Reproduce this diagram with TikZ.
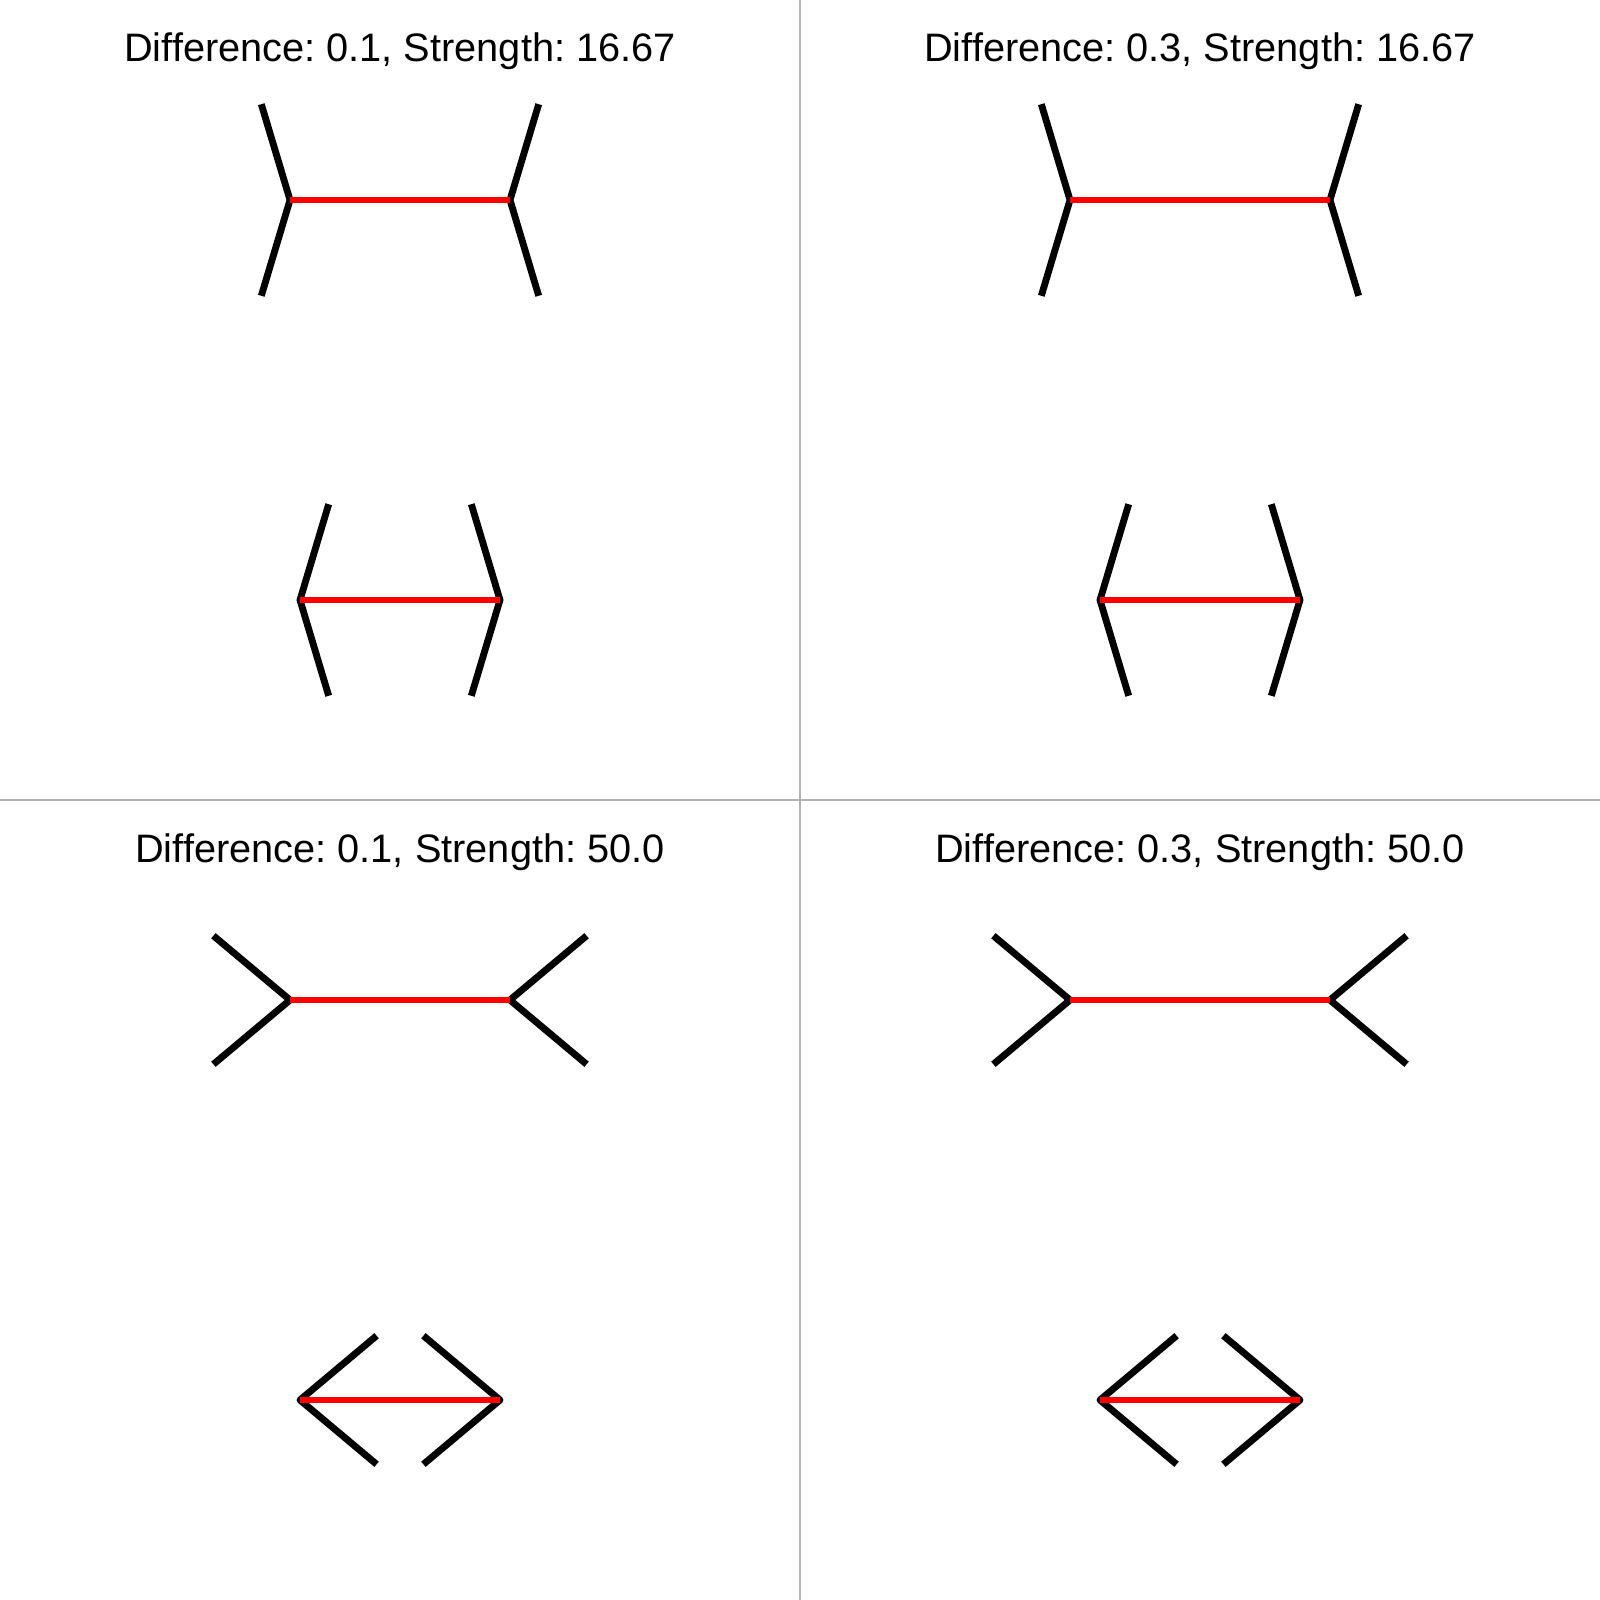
\documentclass[tikz,border=0pt]{standalone}
\usepackage{fontspec}
\setmainfont{Liberation Sans}
\usepackage{tikz}

\begin{document}
\frenchspacing
\begin{tikzpicture}[x=0.01cm,y=-0.01cm,
  fin/.style={line width=1.95pt,black,line cap=butt,line join=round},
  shaft/.style={line width=1.95pt,red,line cap=butt},
  lbl/.style={font=\fontsize{11.3}{13}\selectfont,anchor=base,inner sep=0pt},
  sep/.style={line width=0.35pt,black!30}]
\useasboundingbox[fill=white] (0,0) rectangle (1600,1600);
\draw[sep] (800,0) -- (800,1600);
\draw[sep] (0,800) -- (1600,800);
\foreach \col/\dif in {0/0.1,1/0.3}
 \foreach \row/\str in {0/16.67,1/50.0}
 {
  \pgfmathsetmacro\cx{400+800*\col}
  \pgfmathsetmacro\cy{800*\row}
  \pgfmathsetmacro\sx{100*sin(\str)}
  \pgfmathsetmacro\sy{100*cos(\str)}
  \pgfmathsetmacro\hl{100*(1+\dif)}
  \node[lbl] (t\col\row) at (\cx,\cy+62) {Difference: \dif, Strength: \str};
  % upper figure: fins point outward
  \coordinate (ua\col\row) at (\cx-\hl,\cy+200);
  \coordinate (ub\col\row) at (\cx+\hl,\cy+200);
  \draw[fin] (ua\col\row) ++(-\sx,-\sy) -- (ua\col\row) -- ++(-\sx,\sy);
  \draw[fin] (ub\col\row) ++(\sx,-\sy) -- (ub\col\row) -- ++(\sx,\sy);
  \draw[shaft] (ua\col\row) -- (ub\col\row);
  % lower figure: fins point inward
  \coordinate (la\col\row) at (\cx-100,\cy+600);
  \coordinate (lb\col\row) at (\cx+100,\cy+600);
  \draw[fin] (la\col\row) ++(\sx,-\sy) -- (la\col\row) -- ++(\sx,\sy);
  \draw[fin] (lb\col\row) ++(-\sx,-\sy) -- (lb\col\row) -- ++(-\sx,\sy);
  \draw[shaft] (la\col\row) -- (lb\col\row);
 }
\end{tikzpicture}
\end{document}
